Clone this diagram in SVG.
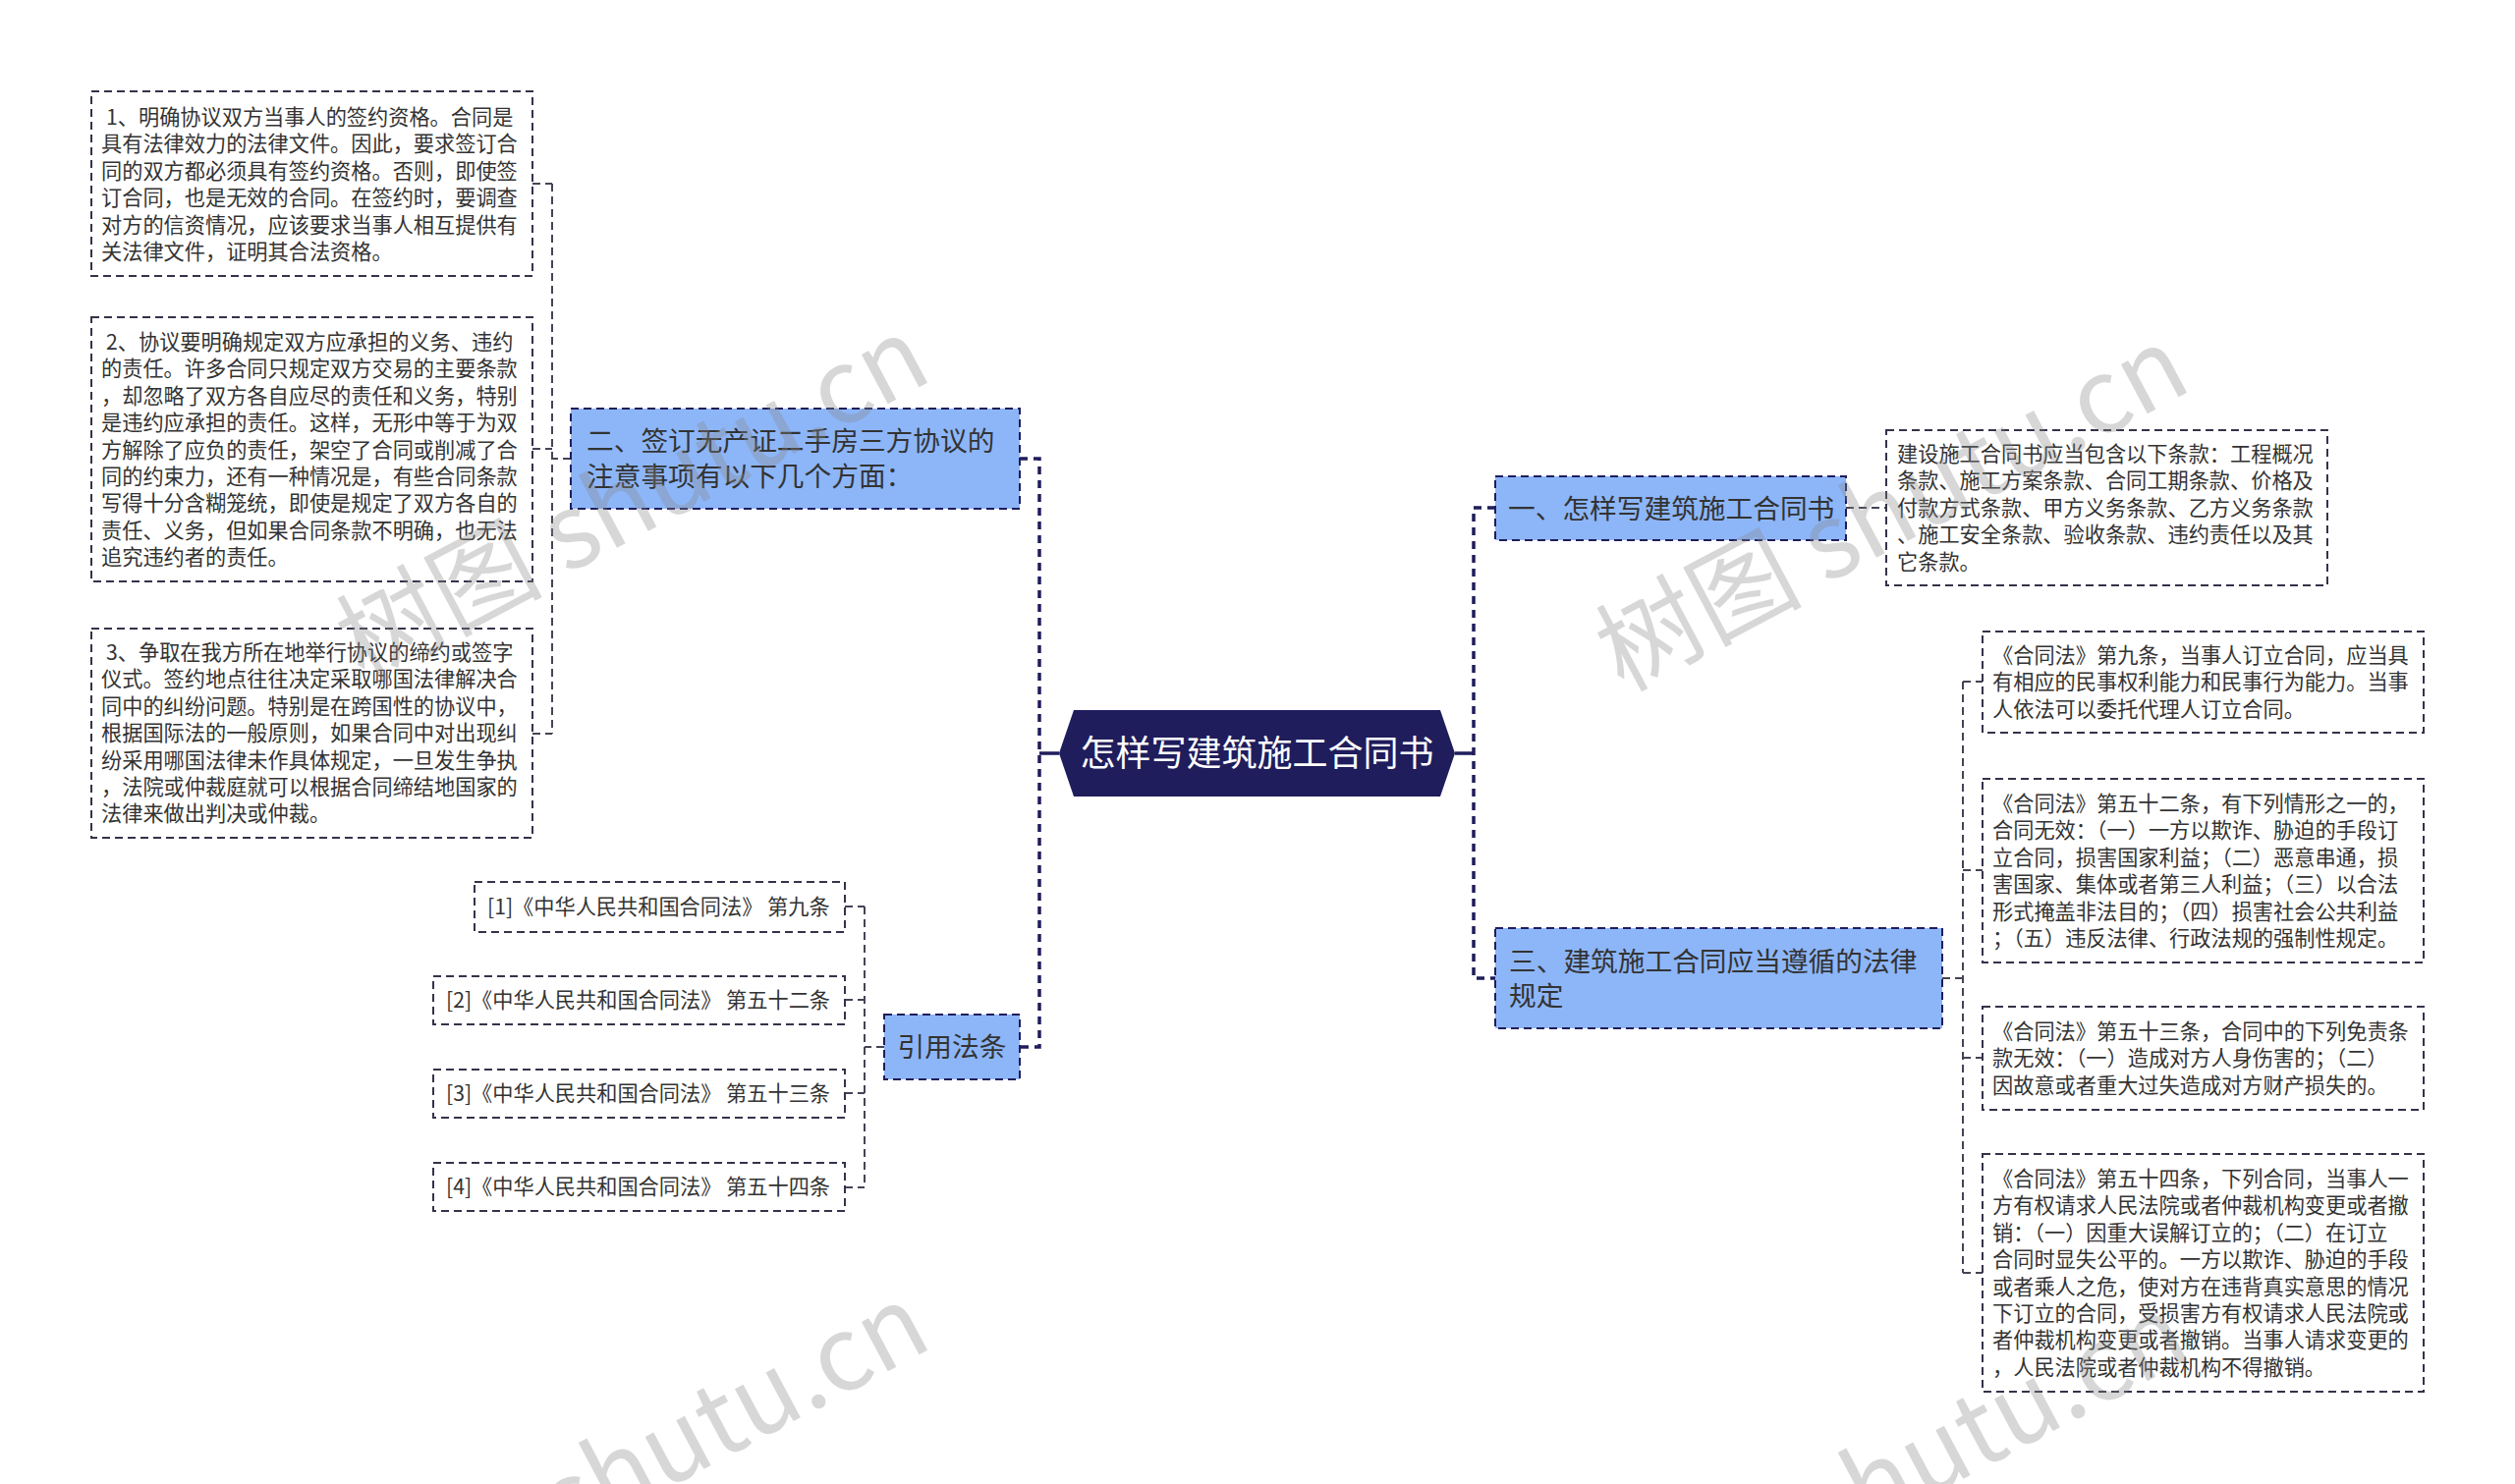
<svg xmlns="http://www.w3.org/2000/svg" width="2560" height="1511" viewBox="0 0 2560 1511">
<style>
.box{fill:#ffffff;stroke:#33334a;stroke-width:2;stroke-dasharray:8 5}
.topic{fill:#8db6f9;stroke:#1f1d5c;stroke-width:2;stroke-dasharray:8 5}
.t{font-family:"Noto Sans CJK SC","Noto Sans",sans-serif;font-size:21.2px;fill:#333333}
.tt{font-family:"Noto Sans CJK SC","Noto Sans",sans-serif;font-size:27.7px;fill:#333333}
.root{font-family:"Noto Sans CJK SC","Noto Sans",sans-serif;font-size:36px;fill:#ffffff}
.trunk{fill:none;stroke:#1f1d5c;stroke-width:3.5;stroke-dasharray:8 6}
.stub{fill:none;stroke:#1f1d5c;stroke-width:3.5}
.thin{fill:none;stroke:#444455;stroke-width:2;stroke-dasharray:8 5}
.wm{font-family:"Noto Sans CJK SC","Noto Sans",sans-serif;font-size:105px;fill:#888888;opacity:0.33}
</style>
<rect width="2560" height="1511" fill="#ffffff"/>
<g id="connectors">
<path class="trunk" d="M1038,467 H1058 V1066 H1038"/>
<path class="stub" d="M1058,767 H1078"/>
<path class="trunk" d="M1522,517 H1500 V996 H1522"/>
<path class="stub" d="M1481,767 H1500"/>
<path class="thin" d="M581,467 H562 M562,187 V747 M542,187 H562 M542,457 H562 M542,747 H562"/>
<path class="thin" d="M900,1066 H880 M880,923 V1209 M860,923 H880 M860,1018 H880 M860,1113 H880 M860,1209 H880"/>
<path class="thin" d="M1879,517 H1920"/>
<path class="thin" d="M1977,996 H1998 M1998,694 V1296 M1998,694 H2018 M1998,886 H2018 M1998,1077 H2018 M1998,1296 H2018"/>
</g>
<g id="root">
<polygon points="1078,767 1093,723 1466,723 1481,767 1466,811 1093,811" fill="#1f1d5c"/>
<text class="root" x="1279.5" y="780" text-anchor="middle">怎样写建筑施工合同书</text>
</g>
<g id="node-er">
<rect class="topic" x="581" y="416" width="457" height="102"/>
<text class="tt" x="597" y="459">二、签订无产证二手房三方协议的</text>
<text class="tt" x="597" y="495">注意事项有以下几个方面：</text>
</g>
<g id="node-yinyong">
<rect class="topic" x="900" y="1033" width="138" height="66"/>
<text class="tt" x="969" y="1076" text-anchor="middle">引用法条</text>
</g>
<g id="node-yi">
<rect class="topic" x="1522" y="485" width="357" height="65"/>
<text class="tt" x="1535" y="528">一、怎样写建筑施工合同书</text>
</g>
<g id="node-san">
<rect class="topic" x="1522" y="945" width="455" height="102"/>
<text class="tt" x="1536" y="989">三、建筑施工合同应当遵循的法律</text>
<text class="tt" x="1536" y="1024">规定</text>
</g>
<g id="box-1">
<rect class="box" x="93" y="93" width="449" height="188"/>
<text class="t" x="108" y="127">1、明确协议双方当事人的签约资格。合同是</text>
<text class="t" x="103" y="154.4">具有法律效力的法律文件。因此，要求签订合</text>
<text class="t" x="103" y="181.8">同的双方都必须具有签约资格。否则，即使签</text>
<text class="t" x="103" y="209.2">订合同，也是无效的合同。在签约时，要调查</text>
<text class="t" x="103" y="236.6">对方的信资情况，应该要求当事人相互提供有</text>
<text class="t" x="103" y="264">关法律文件，证明其合法资格。</text>
</g>
<g id="box-2">
<rect class="box" x="93" y="323" width="449" height="269"/>
<text class="t" x="108" y="356">2、协议要明确规定双方应承担的义务、违约</text>
<text class="t" x="103" y="383.4">的责任。许多合同只规定双方交易的主要条款</text>
<text class="t" x="103" y="410.8">，却忽略了双方各自应尽的责任和义务，特别</text>
<text class="t" x="103" y="438.2">是违约应承担的责任。这样，无形中等于为双</text>
<text class="t" x="103" y="465.6">方解除了应负的责任，架空了合同或削减了合</text>
<text class="t" x="103" y="493">同的约束力，还有一种情况是，有些合同条款</text>
<text class="t" x="103" y="520.4">写得十分含糊笼统，即使是规定了双方各自的</text>
<text class="t" x="103" y="547.8">责任、义务，但如果合同条款不明确，也无法</text>
<text class="t" x="103" y="575.2">追究违约者的责任。</text>
</g>
<g id="box-3">
<rect class="box" x="93" y="640" width="449" height="213"/>
<text class="t" x="108" y="672">3、争取在我方所在地举行协议的缔约或签字</text>
<text class="t" x="103" y="699.4">仪式。签约地点往往决定采取哪国法律解决合</text>
<text class="t" x="103" y="726.8">同中的纠纷问题。特别是在跨国性的协议中，</text>
<text class="t" x="103" y="754.2">根据国际法的一般原则，如果合同中对出现纠</text>
<text class="t" x="103" y="781.6">纷采用哪国法律未作具体规定，一旦发生争执</text>
<text class="t" x="103" y="809">，法院或仲裁庭就可以根据合同缔结地国家的</text>
<text class="t" x="103" y="836.4">法律来做出判决或仲裁。</text>
</g>
<g id="ref-1">
<rect class="box" x="483" y="898" width="377" height="51"/>
<text class="t" x="496" y="931">[1]《中华人民共和国合同法》 第九条</text>
</g>
<g id="ref-2">
<rect class="box" x="441" y="994" width="419" height="49"/>
<text class="t" x="454" y="1026">[2]《中华人民共和国合同法》 第五十二条</text>
</g>
<g id="ref-3">
<rect class="box" x="441" y="1089" width="419" height="49"/>
<text class="t" x="454" y="1121">[3]《中华人民共和国合同法》 第五十三条</text>
</g>
<g id="ref-4">
<rect class="box" x="441" y="1184" width="419" height="49"/>
<text class="t" x="454" y="1216">[4]《中华人民共和国合同法》 第五十四条</text>
</g>
<g id="box-r1">
<rect class="box" x="1920" y="438" width="449" height="158"/>
<text class="t" x="1931" y="470">建设施工合同书应当包含以下条款：工程概况</text>
<text class="t" x="1931" y="497.4">条款、施工方案条款、合同工期条款、价格及</text>
<text class="t" x="1931" y="524.8">付款方式条款、甲方义务条款、乙方义务条款</text>
<text class="t" x="1931" y="552.2">、施工安全条款、验收条款、违约责任以及其</text>
<text class="t" x="1931" y="579.6">它条款。</text>
</g>
<g id="box-a">
<rect class="box" x="2018" y="643" width="449" height="103"/>
<text class="t" x="2028" y="675">《合同法》第九条，当事人订立合同，应当具</text>
<text class="t" x="2028" y="702.4">有相应的民事权利能力和民事行为能力。当事</text>
<text class="t" x="2028" y="729.8">人依法可以委托代理人订立合同。</text>
</g>
<g id="box-b">
<rect class="box" x="2018" y="793" width="449" height="187"/>
<text class="t" x="2028" y="826">《合同法》第五十二条，有下列情形之一的，</text>
<text class="t" x="2028" y="853.4">合同无效：（一）一方以欺诈、胁迫的手段订</text>
<text class="t" x="2028" y="880.8">立合同，损害国家利益；（二）恶意串通，损</text>
<text class="t" x="2028" y="908.2">害国家、集体或者第三人利益；（三）以合法</text>
<text class="t" x="2028" y="935.6">形式掩盖非法目的；（四）损害社会公共利益</text>
<text class="t" x="2028" y="963">；（五）违反法律、行政法规的强制性规定。</text>
</g>
<g id="box-c">
<rect class="box" x="2018" y="1025" width="449" height="105"/>
<text class="t" x="2028" y="1058">《合同法》第五十三条，合同中的下列免责条</text>
<text class="t" x="2028" y="1085.4">款无效：（一）造成对方人身伤害的；（二）</text>
<text class="t" x="2028" y="1112.8">因故意或者重大过失造成对方财产损失的。</text>
</g>
<g id="box-d">
<rect class="box" x="2018" y="1175" width="449" height="242"/>
<text class="t" x="2028" y="1208">《合同法》第五十四条，下列合同，当事人一</text>
<text class="t" x="2028" y="1235.4">方有权请求人民法院或者仲裁机构变更或者撤</text>
<text class="t" x="2028" y="1262.8">销：（一）因重大误解订立的；（二）在订立</text>
<text class="t" x="2028" y="1290.2">合同时显失公平的。一方以欺诈、胁迫的手段</text>
<text class="t" x="2028" y="1317.6">或者乘人之危，使对方在违背真实意思的情况</text>
<text class="t" x="2028" y="1345">下订立的合同，受损害方有权请求人民法院或</text>
<text class="t" x="2028" y="1372.4">者仲裁机构变更或者撤销。当事人请求变更的</text>
<text class="t" x="2028" y="1399.8">，人民法院或者仲裁机构不得撤销。</text>
</g>
<g id="watermarks">
<text class="wm" transform="translate(370,695) rotate(-28)">树图 shutu.cn</text>
<text class="wm" transform="translate(1652,705) rotate(-28)">树图 shutu.cn</text>
<text class="wm" transform="translate(370,1680) rotate(-28)">树图 shutu.cn</text>
<text class="wm" transform="translate(1652,1690) rotate(-28)">树图 shutu.cn</text>
</g>
</svg>
